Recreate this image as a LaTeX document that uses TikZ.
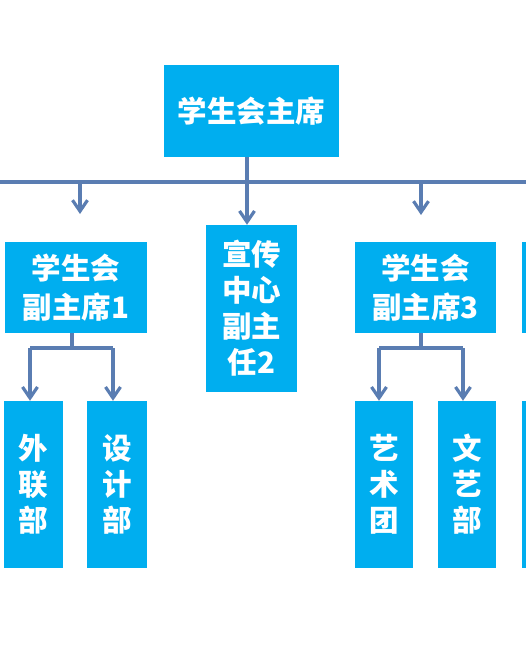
\documentclass[tikz,border=0pt]{standalone}
\usepackage{fontspec}
\newfontfamily\cjk{Noto Sans CJK SC}
\usetikzlibrary{arrows.meta}
\definecolor{boxblue}{HTML}{00AEEF}
\definecolor{linkblue}{HTML}{5A7DB2}
\begin{document}
\begin{tikzpicture}[x=1pt,y=-1pt,
  box/.style={fill=boxblue, text=white, inner sep=0pt, align=center,
    font=\cjk\bfseries\fontsize{29.5}{36}\selectfont},
  twoline/.style={font=\cjk\bfseries\fontsize{29.5}{39}\selectfont},
  link/.style={draw=linkblue, line width=3.2pt},
  arr/.style={link, -{Straight Barb[length=11pt,width=15pt,line width=3.2pt]}}]
\useasboundingbox (0,0) rectangle (526,671);
\clip (0,0) rectangle (526,671);
% boxes
\node[box, minimum width=175pt, minimum height=92pt] (top) at (251.5,111) {学生会主席};
\node[box, twoline, minimum width=142pt, minimum height=91pt] (vp1) at (76,287.5) {学生会\\副主席1};
\node[box, minimum width=91pt, minimum height=167pt] (xc) at (251.5,308.5) {宣传\\中心\\副主\\任2};
\node[box, twoline, minimum width=141pt, minimum height=91pt] (vp3) at (425.5,287.5) {学生会\\副主席3};
\node[box, minimum width=60pt, minimum height=91pt] (vp4) at (552,287.5) {};
\node[box, minimum width=59pt, minimum height=167pt] (wl) at (33.5,484.5) {外\\联\\部};
\node[box, minimum width=60pt, minimum height=167pt] (sj) at (117,484.5) {设\\计\\部};
\node[box, minimum width=58pt, minimum height=167pt] (ys) at (384,484.5) {艺\\术\\团};
\node[box, minimum width=58pt, minimum height=167pt] (wy) at (467,484.5) {文\\艺\\部};
\node[box, minimum width=60pt, minimum height=167pt] (b5) at (552,484.5) {};
% main bus
\coordinate (hl) at (0,182);
\coordinate (hr) at (526,182);
\coordinate (hm) at (247,182);
\coordinate (ha) at (80,182);
\coordinate (hb) at (421,182);
\coordinate (ea) at (80,214);
\coordinate (eb) at (421,215);
\draw[link] (hl) -- (hr);
\draw[link] (top.south -| hm) -- (hm);
\draw[arr] (hm) -- (xc.north -| hm);
\draw[arr] (ha) -- (ea);
\draw[arr] (hb) -- (eb);
% vp1 branch
\coordinate (s1) at (72,348);
\coordinate (l1) at (30,348);
\coordinate (r1) at (113,348);
\draw[link] (vp1.south -| s1) -- (s1);
\draw[link] (l1) -- (r1);
\draw[arr] (l1) -- (wl.north -| l1);
\draw[arr] (r1) -- (sj.north -| r1);
% vp3 branch
\coordinate (s3) at (421,348);
\coordinate (l3) at (379,348);
\coordinate (r3) at (463,348);
\draw[link] (vp3.south -| s3) -- (s3);
\draw[link] (l3) -- (r3);
\draw[arr] (l3) -- (ys.north -| l3);
\draw[arr] (r3) -- (wy.north -| r3);
\end{tikzpicture}
\end{document}
